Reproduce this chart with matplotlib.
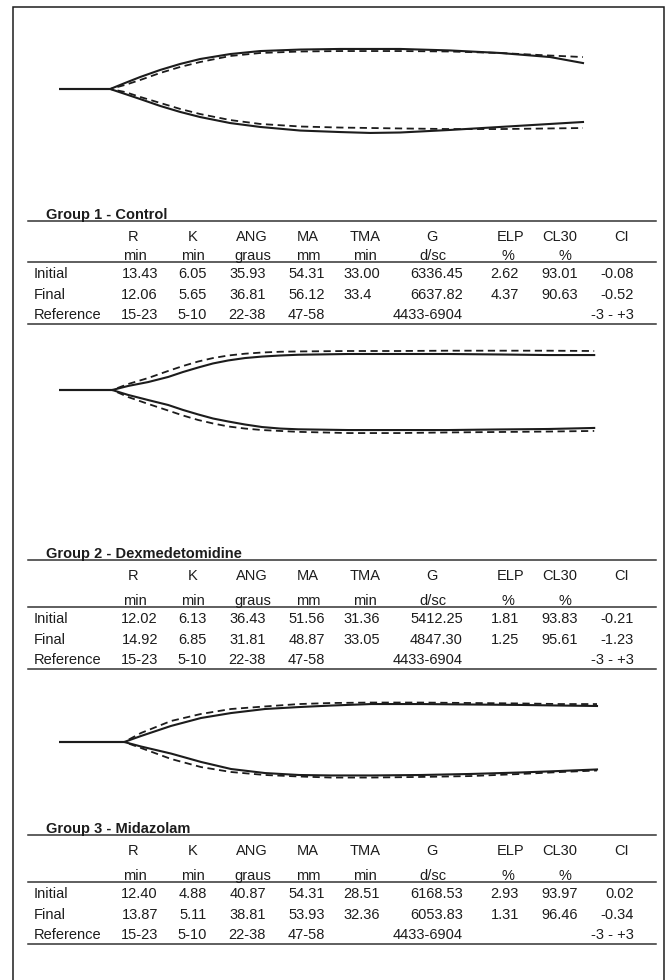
import matplotlib
matplotlib.use("Agg")
import matplotlib.pyplot as plt

plt.rcParams["font.family"] = ["Liberation Sans", "DejaVu Sans"]
INK = "#1c1c1c"

# thromboelastography tracings: time (min) and half-amplitude (mm) of each branch
# solid = initial, dashed = final
T1 = [0, 12.8, 16.5, 20.3, 25.3, 30.3, 35.3, 42.8, 50.3, 60.3, 70.3, 77.8, 85.3, 97.8, 110.3, 122.8, 131.0]
T1_UP_SOLID = [0, 0, 4.0, 8.0, 12.7, 16.7, 20.0, 23.3, 25.3, 26.3, 26.7, 26.7, 26.7, 25.7, 24.0, 21.3, 17.3]
T1_UP_DASH = [0, 0, 2.7, 6.0, 10.7, 14.7, 18.0, 22.0, 24.0, 25.0, 25.3, 25.3, 25.3, 25.0, 24.0, 22.3, 21.3]
T1_LO_SOLID = [0, 0, 3.3, 6.7, 11.3, 15.3, 18.7, 22.7, 25.3, 27.7, 28.7, 29.3, 29.0, 27.3, 25.3, 23.3, 22.0]
T1_LO_DASH = [0, 0, 2.0, 5.3, 9.3, 13.3, 16.7, 20.7, 23.3, 25.0, 25.7, 26.0, 26.3, 26.7, 26.7, 26.3, 26.0]

T2 = [0, 13.3, 17.3, 22.3, 27.3, 31.0, 34.8, 38.5, 42.3, 46.5, 50.8, 55.3, 59.8, 72.3, 84.8, 97.3, 109.8, 122.3, 133.8]
T2_UP_SOLID = [0, 0, 2.7, 5.3, 8.7, 12.0, 15.0, 17.7, 19.7, 21.3, 22.3, 23.0, 23.5, 24.0, 24.0, 24.0, 23.7, 23.3, 23.3]
T2_UP_DASH = [0, 0, 4.0, 8.0, 12.7, 16.0, 19.0, 21.3, 23.0, 24.2, 25.0, 25.5, 25.7, 26.0, 26.0, 26.2, 26.2, 26.2, 26.0]
T2_LO_SOLID = [0, 0, 3.3, 6.7, 10.0, 13.3, 16.3, 19.0, 21.0, 23.0, 24.7, 25.7, 26.2, 26.7, 26.7, 26.7, 26.3, 26.0, 25.3]
T2_LO_DASH = [0, 0, 4.7, 9.3, 13.7, 17.0, 20.0, 22.3, 24.3, 25.7, 26.7, 27.3, 27.9, 28.7, 28.7, 28.3, 28.0, 27.7, 27.3]

T3 = [0, 16.3, 20.5, 28.0, 35.5, 43.0, 51.5, 60.0, 68.0, 78.0, 90.5, 103.0, 115.5, 125.5, 134.5]
T3_UP_SOLID = [0, 0, 4.0, 10.7, 16.0, 19.3, 22.0, 23.3, 24.3, 25.3, 25.3, 25.0, 24.7, 24.3, 24.0]
T3_UP_DASH = [0, 0, 6.0, 14.0, 18.7, 22.0, 23.7, 25.3, 26.0, 26.3, 26.3, 26.0, 25.7, 25.3, 25.3]
T3_LO_SOLID = [0, 0, 3.0, 7.7, 13.3, 18.0, 20.7, 22.0, 22.3, 22.3, 22.0, 21.3, 20.3, 19.3, 18.3]
T3_LO_DASH = [0, 0, 4.0, 11.3, 16.7, 20.0, 22.0, 23.0, 23.7, 23.7, 23.3, 22.7, 21.3, 20.0, 19.0]

# table content
PARAMS = ["R", "K", "ANG", "MA", "TMA", "G", "ELP", "CL30", "CI"]
UNITS = ["min", "min", "graus", "mm", "min", "d/sc", "%", "%", ""]
ROWS = ["Initial", "Final", "Reference"]
REFERENCE = ["15-23", "5-10", "22-38", "47-58", "", "4433-6904", "", "", "-3 - +3"]

GROUP_NAMES = ["Group 1 - Control", "Group 2 - Dexmedetomidine", "Group 3 - Midazolam"]
INITIAL = [
    ["13.43", "6.05", "35.93", "54.31", "33.00", "6336.45", "2.62", "93.01", "-0.08"],
    ["12.02", "6.13", "36.43", "51.56", "31.36", "5412.25", "1.81", "93.83", "-0.21"],
    ["12.40", "4.88", "40.87", "54.31", "28.51", "6168.53", "2.93", "93.97", "0.02"],
]
FINAL = [
    ["12.06", "5.65", "36.81", "56.12", "33.4", "6637.82", "4.37", "90.63", "-0.52"],
    ["14.92", "6.85", "31.81", "48.87", "33.05", "4847.30", "1.25", "95.61", "-1.23"],
    ["13.87", "5.11", "38.81", "53.93", "32.36", "6053.83", "1.31", "96.46", "-0.34"],
]
TRACES = [
    (T1, T1_UP_SOLID, T1_UP_DASH, T1_LO_SOLID, T1_LO_DASH),
    (T2, T2_UP_SOLID, T2_UP_DASH, T2_LO_SOLID, T2_LO_DASH),
    (T3, T3_UP_SOLID, T3_UP_DASH, T3_LO_SOLID, T3_LO_DASH),
]

W, H = 671, 980
fig = plt.figure(figsize=(W / 100, H / 100), dpi=100)
page = fig.add_axes([0, 0, 1, 1])
page.set_xlim(0, W)
page.set_ylim(H, 0)
page.axis("off")

# frame around the whole figure (runs off the bottom)
page.plot([13, 13, 664, 664], [H + 5, 7, 7, H + 5], color=INK, lw=1.1,
          solid_joinstyle="miter")

# layout (pixels): tracing baseline, table title baseline, extra gap under header
baselines = [89, 390, 742]
title_y = [219, 558, 833]
head_gap = [0, 6, 6]

head_x = [133, 193, 252, 308, 365, 432, 511, 560, 622]
unit_x = [135, 193, 253, 308, 365, 433, 508, 565, 622]
val_x = [158, 207, 266, 325, 343, 463, 519, 578, 634]
val_ha = ["right"] * 4 + ["left"] + ["right"] * 4
FS = 10.5
DASH = (0, (4, 2.5))

for g in range(3):
    # tracing panel: 4 px per minute, 1.5 px per mm
    b = baselines[g]
    ax = fig.add_axes([59 / W, 1 - (b + 60) / H, 540 / W, 120 / H])
    ax.set_xlim(0, 135)
    ax.set_ylim(-40, 40)
    ax.axis("off")
    t, us, ud, ls, ld = TRACES[g]
    ax.plot(t, ud, color=INK, lw=1.3, ls=DASH)
    ax.plot(t, [-v for v in ld], color=INK, lw=1.3, ls=DASH)
    ax.plot(t, us, color=INK, lw=1.5, solid_joinstyle="round")
    ax.plot(t, [-v for v in ls], color=INK, lw=1.5, solid_joinstyle="round")

    # table
    y0 = title_y[g]
    gap = head_gap[g]
    page.text(46, y0, GROUP_NAMES[g], fontsize=FS, fontweight="bold", color=INK,
              va="baseline", ha="left")
    page.plot([28, 656], [y0 + 2, y0 + 2], color="#333333", lw=1.1)
    y_head = y0 + 22
    y_unit = y_head + 19 + gap
    page.plot([28, 656], [y_unit + 2, y_unit + 2], color="#333333", lw=1.1)
    for j in range(9):
        page.text(head_x[j], y_head, PARAMS[j], fontsize=FS, color=INK,
                  ha="center", va="baseline")
        if UNITS[j]:
            page.text(unit_x[j], y_unit, UNITS[j], fontsize=FS, color=INK,
                      ha="center", va="baseline")
    rows = [INITIAL[g], FINAL[g], REFERENCE]
    for i, row in enumerate(rows):
        yr = y_unit + 18 + 20.5 * i
        page.text(34, yr, ROWS[i], fontsize=FS, color=INK, ha="left", va="baseline")
        for j, v in enumerate(row):
            if v:
                ha = val_ha[j] if i < 2 else ("right" if j != 4 else "left")
                page.text(val_x[j], yr, v, fontsize=FS, color=INK, ha=ha, va="baseline")
    yb = y_unit + 18 + 41 + 5
    page.plot([28, 656], [yb, yb], color="#333333", lw=1.1)

fig.savefig("out.png", dpi=100)
